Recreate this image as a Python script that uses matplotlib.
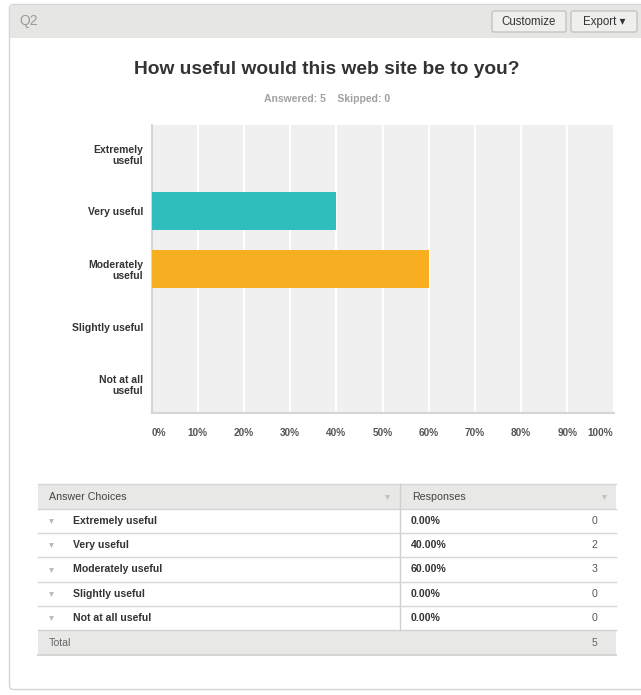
import matplotlib
matplotlib.use("Agg")
import matplotlib.pyplot as plt
from matplotlib.patches import Rectangle, FancyBboxPatch

plt.rcParams['font.family'] = ['Liberation Sans', 'DejaVu Sans']

# data
question = "Q2"
title = "How useful would this web site be to you?"
answered = 5
skipped = 0
categories = ["Extremely\nuseful", "Very useful", "Moderately\nuseful",
              "Slightly useful", "Not at all\nuseful"]
choices = ["Extremely useful", "Very useful", "Moderately useful",
           "Slightly useful", "Not at all useful"]
percent = [0, 40, 60, 0, 0]
counts = [0, 2, 3, 0, 0]
bar_colors = ["#2fbdbd", "#2fbdbd", "#f7ae20", "#2fbdbd", "#2fbdbd"]
x_ticks = [0, 10, 20, 30, 40, 50, 60, 70, 80, 90, 100]

W, H = 641, 695
fig = plt.figure(figsize=(W / 100, H / 100), dpi=100)

# background canvas in pixel coords
bg = fig.add_axes([0, 0, 1, 1])
bg.set_xlim(0, W)
bg.set_ylim(H, 0)
bg.axis("off")

# outer panel
bg.add_patch(FancyBboxPatch((9.5, 4.5), 640, 685, boxstyle="round,pad=0,rounding_size=4",
                            fc="white", ec="#d4d4d4", lw=1))
bg.add_patch(Rectangle((10, 5), 631, 33, fc="#e6e6e4", ec="none"))
bg.text(19, 21, question, fontsize=10, color="#9a9a9a", va="center")

# buttons
for bx, bw, lbl in [(492, 74, "Customize"), (571, 66, "Export \u25be")]:
    bg.add_patch(FancyBboxPatch((bx, 11), bw, 21, boxstyle="round,pad=0,rounding_size=2",
                                fc="#efefed", ec="#c4c4c2", lw=1))
    bg.text(bx + bw / 2, 22, lbl, fontsize=8.3, color="#333333", ha="center", va="center",
            family=['Liberation Sans', 'DejaVu Sans'])

bg.text(327, 70, title, fontsize=13.8, fontweight="bold", color="#333333",
        ha="center", va="center")
bg.text(327, 99, f"Answered: {answered}    Skipped: {skipped}", fontsize=7.5,
        fontweight="bold", color="#a0a0a0", ha="center", va="center")

# bar chart
l, r, t, b = 151.5, 613.5, 125, 413
ax = fig.add_axes([l / W, 1 - b / H, (r - l) / W, (b - t) / H])
ax.set_facecolor("#f0f0f0")
ypos = list(range(len(categories)))
ax.barh(ypos, percent, height=0.66, color=bar_colors, zorder=3)
ax.set_xlim(0, 100)
ax.set_ylim(len(categories) - 0.5, -0.5)
ax.set_xticks(x_ticks)
ax.set_xticklabels([])
ax.grid(axis="x", color="white", lw=1.5, zorder=1)
ax.set_yticks(ypos)
ax.set_yticklabels(categories, fontsize=7.5, fontweight="bold", color="#333333",
                   linespacing=1.1)
ax.tick_params(axis="both", length=0, pad=6)
for s in ["top", "right"]:
    ax.spines[s].set_visible(False)
for s in ["left", "bottom"]:
    ax.spines[s].set_color("#d6d6d6")
    ax.spines[s].set_linewidth(1.5)
for i, xt in enumerate(x_ticks):
    ha = "left" if i == 0 else ("right" if i == len(x_ticks) - 1 else "center")
    ax.text(xt, -0.07, f"{xt}%", transform=ax.get_xaxis_transform(), ha=ha, va="center",
            fontsize=7.2, fontweight="bold", color="#555555")

# table
tl, tr, cdiv = 38, 616, 400
hy, rh = 484, 24.2
bg.add_patch(Rectangle((tl, hy), tr - tl, 25, fc="#e8e8e7", ec="none"))
bg.plot([tl, tr], [hy, hy], color="#d8d8d8", lw=1)
bg.text(49, hy + 12.5, "Answer Choices", fontsize=7.7, color="#444444", va="center")
bg.text(412, hy + 12.5, "Responses", fontsize=7.7, color="#444444", va="center")
bg.plot([387, 604], [hy + 13, hy + 13], ls="none", marker="v", ms=3.5,
        color="#c0c0c0", mec="none")
bg.plot([cdiv, cdiv], [hy, hy + 25 + rh * len(choices)], color="#cfcfcf", lw=1)
y0 = hy + 25
for i, (c, p, n) in enumerate(zip(choices, percent, counts)):
    yc = y0 + rh * i + rh / 2
    bg.plot([tl, tr], [y0 + rh * i, y0 + rh * i], color="#d6d6d6", lw=1)
    bg.plot(51, yc, ls="none", marker="v", ms=3.5, color="#b8b8b8", mec="none")
    bg.text(73, yc, c, fontsize=7.6, fontweight="bold", color="#333333", va="center")
    bg.text(411, yc, f"{p:.2f}%", fontsize=7.6, fontweight="bold", color="#333333", va="center")
    bg.text(597, yc, str(n), fontsize=7.6, color="#555555", ha="right", va="center")
ty = y0 + rh * len(choices)
bg.add_patch(Rectangle((tl, ty), tr - tl, 25, fc="#e8e8e7", ec="none"))
bg.plot([tl, tr], [ty, ty], color="#d0d0d0", lw=1)
bg.plot([tl, tr], [ty + 25, ty + 25], color="#d6d6d6", lw=1.5)
bg.text(49, ty + 12.5, "Total", fontsize=7.6, color="#666666", va="center")
bg.text(597, ty + 12.5, str(sum(counts)), fontsize=7.6, color="#666666", ha="right", va="center")

fig.savefig("out.png", dpi=100)
